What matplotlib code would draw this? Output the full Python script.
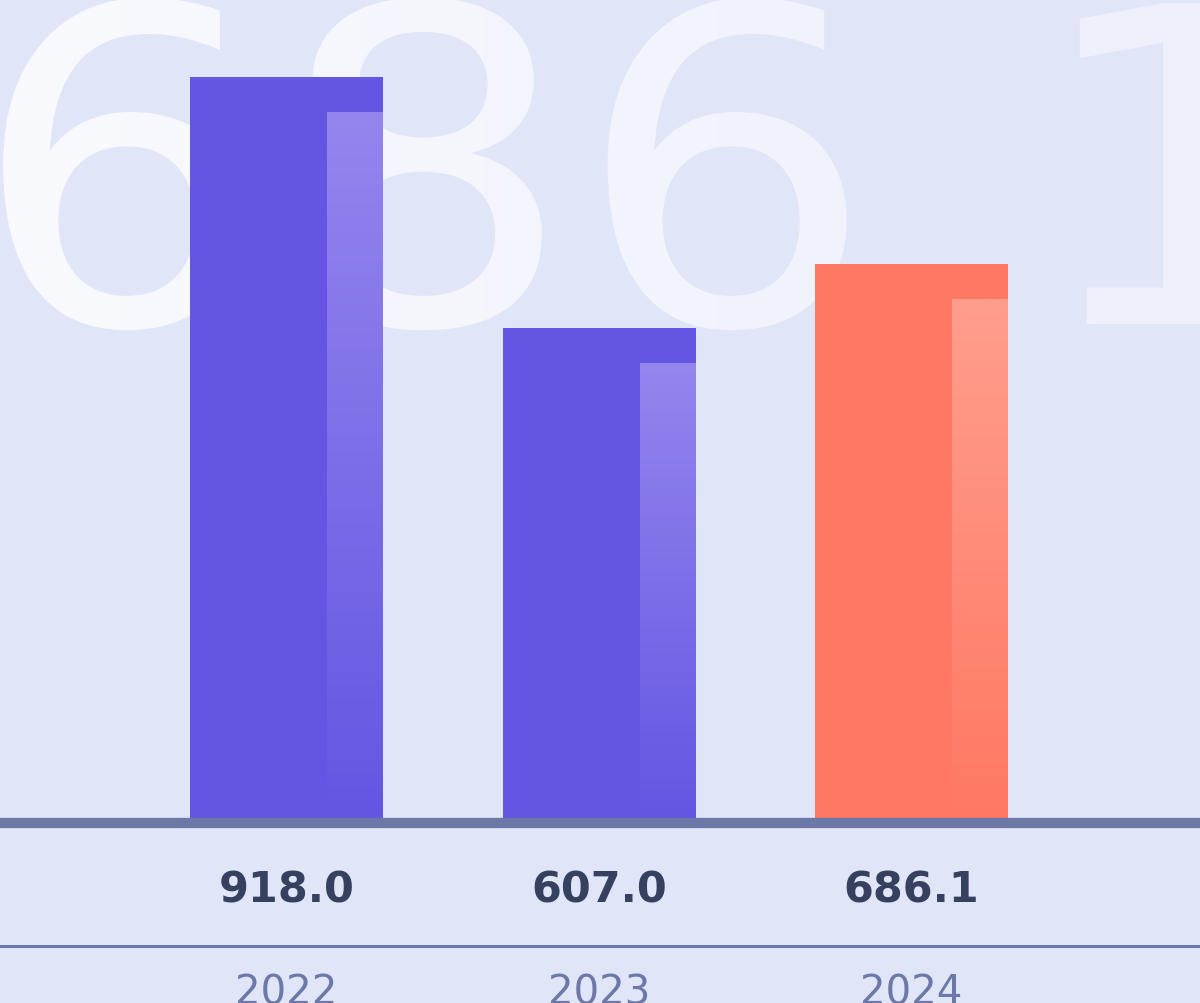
import numpy as np
import matplotlib.pyplot as plt
from matplotlib.colors import LinearSegmentedColormap
from matplotlib.textpath import TextPath
from matplotlib.patches import PathPatch
from matplotlib.font_manager import FontProperties
from matplotlib.transforms import Affine2D

years = ["2022", "2023", "2024"]
values = [918.0, 607.0, 686.1]
bar_colors = ["#6456E2", "#6456E2", "#FF7863"]
strip_tops = ["#9386EE", "#9386EE", "#FF9E8D"]

W, H = 1200, 1004
fig = plt.figure(figsize=(12, 10.04), dpi=100)
fig.patch.set_facecolor("#E1E5F8")

# watermark of the last value, drawn in pixel units behind everything
bg = fig.add_axes([0, 0, 1, 1], zorder=0)
bg.axis("off")
tp = TextPath((0, 0), f"{values[-1]:.1f}", size=1, prop=FontProperties(family="DejaVu Sans"))
path = Affine2D().scale(475, 440).translate(-30, H - 325).transform_path(tp)
patch = PathPatch(path, facecolor="none", edgecolor="none")
bg.add_patch(patch)
wm_cmap = LinearSegmentedColormap.from_list("wm", ["#F9FAFE", "#EDF0FB"])
im = bg.imshow(np.linspace(0, 1, 256)[None, :], extent=(0, W, 0, H), cmap=wm_cmap, aspect="auto")
im.set_clip_path(patch)
bg.set_xlim(0, W)
bg.set_ylim(0, H)

# main axes
ax = fig.add_axes([0, 0, 1, 1], zorder=1)
ax.patch.set_alpha(0)
ax.axis("off")
px_x, x0 = 312.5, 286.5     # pixels per category, first centre
px_y, y0 = 0.807, H - 819   # pixels per unit, zero line from bottom

x = np.arange(len(values))
bw = 193 / px_x
ax.bar(x, values, width=bw, color=bar_colors, zorder=2)

# lighter strip on the right side of each bar
sw = 56 / px_x
drop = 35 / px_y
for xi, v, c_top, c_bot in zip(x, values, strip_tops, bar_colors):
    cm = LinearSegmentedColormap.from_list("s", [c_bot, c_top])
    ax.imshow(np.linspace(0, 1, 256)[:, None], extent=(xi + bw / 2 - sw, xi + bw / 2, 0, v - drop),
              origin="lower", cmap=cm, aspect="auto", zorder=3)

ax.axhline(-5 / px_y, color="#6B78A8", lw=7.4, zorder=4)
ax.axhline(-128 / px_y, color="#6B78A8", lw=2.2, zorder=4)

for xi, v, yr in zip(x, values, years):
    ax.text(xi, -72 / px_y, f"{v:.1f}", ha="center", va="center", fontsize=31,
            fontweight="bold", color="#36415F", zorder=5)
    ax.text(xi, -175 / px_y, yr, ha="center", va="center", fontsize=29,
            color="#6B78A8", zorder=5)

ax.set_xlim(-x0 / px_x, (W - x0) / px_x)
ax.set_ylim(-y0 / px_y, (H - y0) / px_y)

fig.savefig("out.png", dpi=100, facecolor=fig.get_facecolor())
